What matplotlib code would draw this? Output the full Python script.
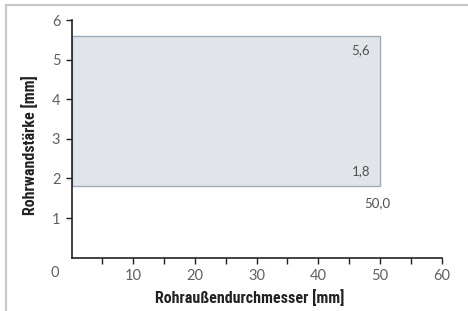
import matplotlib
matplotlib.use("Agg")
import matplotlib.pyplot as plt
from matplotlib.patches import Rectangle
from matplotlib.lines import Line2D
from matplotlib import font_manager

# Data
diameter_range = [0.0, 50.0]          # Rohraußendurchmesser [mm]
wall_range = [1.8, 5.6]               # Rohrwandstärke [mm]
x_ticks = [10, 20, 30, 40, 50, 60]
x_minor = [5, 15, 25, 35, 45, 55]
y_ticks = [1, 2, 3, 4, 5, 6]
x_label = "Rohraußendurchmesser [mm]"
y_label = "Rohrwandstärke [mm]"

names = {f.name for f in font_manager.fontManager.ttflist}
cond = [n for n in ["Liberation Sans Narrow", "DejaVu Sans Condensed", "Roboto Condensed"] if n in names]
label_family = cond + ["Liberation Sans", "DejaVu Sans"]

W, H = 468, 311
fig = plt.figure(figsize=(W / 100, H / 100), dpi=100)
ax = fig.add_axes([71.5 / W, 1 - 257.7 / H, (441.7 - 71.5) / W, (257.7 - 20) / H])

tick_font = dict(family=["Lato", "DejaVu Sans"], fontweight="normal")
label_font = dict(family=label_family, fontweight="bold")
tick_color = "#606060"

rect = Rectangle((diameter_range[0], wall_range[0]),
                 diameter_range[1] - diameter_range[0],
                 wall_range[1] - wall_range[0],
                 facecolor="#e1e5ea", edgecolor="#9eabb8", linewidth=1.0, zorder=1)
ax.add_patch(rect)

ax.set_xlim(0, 60)
ax.set_ylim(0, 6)
ax.set_xticks(x_ticks)
ax.set_xticks(x_minor, minor=True)
ax.set_yticks(y_ticks)
ax.set_xticklabels([str(t) for t in x_ticks], color=tick_color, fontsize=10.5, **tick_font)
ax.set_yticklabels([str(t) for t in y_ticks], color=tick_color, fontsize=10.5, **tick_font)
ax.tick_params(axis="both", which="both", length=4, width=1, color="#222222", pad=4)

for s in ["top", "right"]:
    ax.spines[s].set_visible(False)
for s in ["left", "bottom"]:
    ax.spines[s].set_color("#222222")
    ax.spines[s].set_linewidth(1.2)

ann_kw = dict(color="#505050", fontsize=9.5, **tick_font)
fmt = lambda v: f"{v:.1f}".replace(".", ",")
ax.annotate(fmt(wall_range[1]), (diameter_range[1], wall_range[1]), xytext=(-7, -10),
            textcoords="offset points", ha="right", va="center", **ann_kw)
ax.annotate(fmt(wall_range[0]), (diameter_range[1], wall_range[0]), xytext=(-7, 11),
            textcoords="offset points", ha="right", va="center", **ann_kw)
ax.annotate(fmt(diameter_range[1]), (diameter_range[1], wall_range[0]), xytext=(-2, -12),
            textcoords="offset points", ha="center", va="center", **ann_kw)

# origin label
fig.text(55 / W, 1 - 273 / H, "0", ha="center", va="center", color=tick_color,
         fontsize=10.5, **tick_font)

fig.text(250 / W, 1 - 298 / H, x_label, ha="center", va="center", color="#222222",
         fontsize=11.5, fontstretch="condensed", **label_font)
fig.text(30 / W, 1 - 145 / H, y_label, ha="center", va="center", rotation=90,
         color="#222222", fontsize=11.5, fontstretch="condensed", **label_font)

# frame lines
fig.add_artist(Line2D([6 / W, 1], [1 - 4.5 / H, 1 - 4.5 / H], color="#c8c8c8", lw=1.6,
                      transform=fig.transFigure))
fig.add_artist(Line2D([6 / W, 6 / W], [0, 1 - 4.5 / H], color="#c8c8c8", lw=1.6,
                      transform=fig.transFigure))

fig.savefig("out.png", dpi=100)
